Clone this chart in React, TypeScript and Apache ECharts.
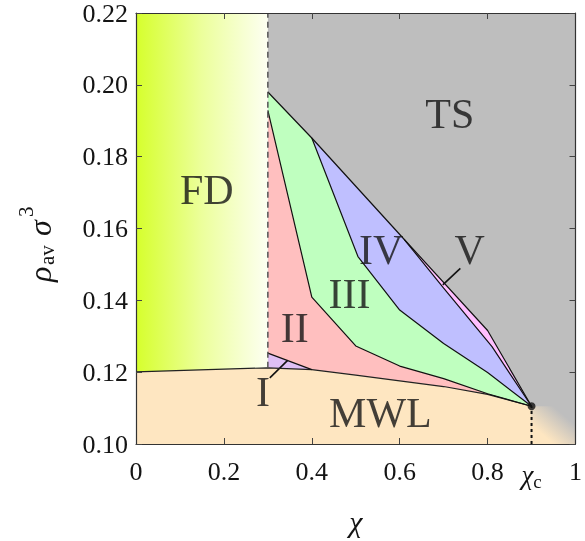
import React, { useEffect, useRef } from "react";
import * as echarts from "echarts";

// ---- data ----
const xTickLabels = [0, 0.2, 0.4, 0.6, 0.8, 0.9, 1];
const xTickMarks = [0.2, 0.4, 0.6, 0.8];
const chiC = 0.9;

// MWL upper boundary
const mwlX = [0, 0.3, 0.4, 0.5, 0.6, 0.7, 0.8, 0.9];
const mwlY = [0.1201, 0.1212, 0.1207, 0.1192, 0.1176, 0.116, 0.1138, 0.1105];
// TS lower boundary (upper edge of regions II..V)
const tsX = [0.3, 0.4, 0.61, 0.8, 0.9];
const tsY = [0.198, 0.1852, 0.157, 0.1316, 0.1105];
// I / II boundary
const b12X = [0.3, 0.4];
const b12Y = [0.1253, 0.1207];
// II / III boundary
const b23X = [0.3, 0.4, 0.5, 0.6, 0.7, 0.8, 0.9];
const b23Y = [0.1929, 0.1409, 0.1273, 0.1217, 0.1182, 0.114, 0.1105];
// III / IV boundary
const b34X = [0.4, 0.505, 0.6, 0.7, 0.8, 0.9];
const b34Y = [0.1852, 0.1522, 0.1373, 0.128, 0.1199, 0.1105];
// IV / V boundary
const b45X = [0.61, 0.7, 0.81, 0.9];
const b45Y = [0.157, 0.1434, 0.1271, 0.1105];

// region labels
const labelText = ["FD", "TS", "II", "III", "IV", "V", "I", "MWL"];
const labelX = [0.161, 0.714, 0.361, 0.486, 0.558, 0.759, 0.289, 0.556];
const labelY = [0.1707, 0.192, 0.1324, 0.1418, 0.1539, 0.1539, 0.1144, 0.1085];

// arrows [tailX, tailY, headX, headY]
const arrowI = [0.3045, 0.1184, 0.345, 0.1233];
const arrowV = [0.738, 0.1489, 0.698, 0.1443];

const SERIF = "Liberation Serif";
const INK = "#141414";

const zip = (xs: number[], ys: number[]) => xs.map((x, i) => [x, ys[i]]);

export default function App() {
  const ref = useRef<HTMLDivElement>(null);

  useEffect(() => {
    if (!ref.current) return;
    const chart = echarts.init(ref.current, undefined, { renderer: "svg" });

    const mwl = zip(mwlX, mwlY);
    const ts = zip(tsX, tsY);
    const b23 = zip(b23X, b23Y);
    const b34 = zip(b34X, b34Y);
    const b45 = zip(b45X, b45Y);
    const b12 = zip(b12X, b12Y);
    const mwlFrom03 = mwl.filter((p) => p[0] >= 0.3);
    const mwlBack = mwlFrom03.slice().reverse();

    const xMin = 0, xMax = 1, yMin = 0.1, yMax = 0.22;

    const gray = "#bebebe";
    const peach = "#fee6c1";

    const polys: { pts: number[][]; fill: any }[] = [
      { pts: [[xMin, yMin], [xMax, yMin], [xMax, yMax], [xMin, yMax]], fill: gray },
      { pts: [...ts, ...mwlBack], fill: "#ffbfff" },
      { pts: [...ts.filter((p) => p[0] < 0.61), ...b45, ...mwlBack], fill: "#bfbfff" },
      { pts: [ts[0], ...b34, ...mwlBack], fill: "#bfffbf" },
      { pts: [...b23, ...mwlBack], fill: "#ffbfbf" },
      { pts: [[0.3, mwlY[1]], ...b12], fill: "#dfc0f5" },
      { pts: [[xMin, yMin], ...mwl, [chiC, yMin]], fill: peach },
      {
        pts: [[chiC, yMin], [chiC, mwlY[mwlY.length - 1]], [xMax, mwlY[mwlY.length - 1]], [xMax, yMin]],
        fill: new echarts.graphic.LinearGradient(0, 1, 1, 0, [
          { offset: 0.25, color: peach },
          { offset: 0.75, color: gray },
        ]),
      },
      {
        pts: [[xMin, mwlY[0]], [0.3, mwlY[1]], [0.3, yMax], [xMin, yMax]],
        fill: new echarts.graphic.LinearGradient(0, 0, 1, 0, [
          { offset: 0, color: "#d6ff2c" },
          { offset: 0.5, color: "#ecff9c" },
          { offset: 1, color: "#fdfff2" },
        ]),
      },
    ];

    const polySeries = polys.map((p) => ({
      type: "custom",
      coordinateSystem: "cartesian2d",
      xAxisIndex: 0,
      yAxisIndex: 0,
      silent: true,
      clip: true,
      data: [0],
      renderItem: (_params: any, api: any) => ({
        type: "polygon",
        shape: { points: p.pts.map((q) => api.coord(q)) },
        style: { fill: p.fill, stroke: "none" },
      }),
    }));

    const lineSeries = (data: number[][], color = "#111", width = 1.2, type: any = "solid") => ({
      type: "line",
      xAxisIndex: 0,
      yAxisIndex: 0,
      data,
      symbol: "none",
      silent: true,
      lineStyle: { color, width, type },
      z: 5,
    });

    const option: any = {
      animation: false,
      textStyle: { fontFamily: SERIF },
      grid: { left: 136, right: 9, top: 12, bottom: 89, containLabel: false },
      xAxis: [
        {
          type: "value",
          min: xMin,
          max: xMax,
          interval: 0.2,
          position: "bottom",
          splitLine: { show: false },
          axisLine: { show: true, onZero: false, lineStyle: { color: "#333", width: 1.2 } },
          axisTick: { show: true, inside: true, length: 6, customValues: xTickMarks, lineStyle: { color: "#444" } },
          axisLabel: {
            customValues: xTickLabels,
            margin: 14,
            fontSize: 26,
            fontFamily: SERIF,
            color: INK,
            formatter: (v: number) => (Math.abs(v - chiC) < 1e-9 ? "{chi|χ}{sub|c}" : String(v)),
            rich: {
              chi: { fontSize: 27, fontStyle: "italic", fontFamily: SERIF, color: INK },
              sub: { fontSize: 19, fontFamily: SERIF, color: INK, verticalAlign: "bottom", padding: [14, 0, 0, 0] },
            },
          },
          name: "χ",
          nameLocation: "middle",
          nameGap: 62,
          nameTextStyle: { fontSize: 30, fontStyle: "italic", fontFamily: SERIF, color: INK },
          z: 10,
        },
        {
          type: "value",
          min: xMin,
          max: xMax,
          interval: 0.2,
          position: "top",
          splitLine: { show: false },
          axisLine: { show: true, onZero: false, lineStyle: { color: "#333", width: 1.2 } },
          axisTick: { show: true, inside: true, length: 6, customValues: xTickMarks, lineStyle: { color: "#444" } },
          axisLabel: { show: false },
          z: 10,
        },
      ],
      yAxis: [
        {
          type: "value",
          min: yMin,
          max: yMax,
          interval: 0.02,
          position: "left",
          splitLine: { show: false },
          axisLine: { show: true, onZero: false, lineStyle: { color: "#333", width: 1.2 } },
          axisTick: { show: true, inside: true, length: 6, lineStyle: { color: "#444" } },
          axisLabel: {
            margin: 8,
            fontSize: 26,
            fontFamily: SERIF,
            color: INK,
            formatter: (v: number) => v.toFixed(2),
          },
          z: 10,
        },
        {
          type: "value",
          min: yMin,
          max: yMax,
          interval: 0.02,
          position: "right",
          splitLine: { show: false },
          axisLine: { show: true, onZero: false, lineStyle: { color: "#333", width: 1.2 } },
          axisTick: { show: true, inside: true, length: 6, lineStyle: { color: "#444" } },
          axisLabel: { show: false },
          z: 10,
        },
      ],
      graphic: [
        {
          type: "group",
          x: 40,
          y: 282,
          rotation: Math.PI / 2,
          children: [
            { type: "text", x: 0, y: 0, style: { text: "ρ", fontSize: 32, fontStyle: "italic", fontFamily: SERIF, fill: INK, align: "left", verticalAlign: "middle" } },
            { type: "text", x: 17, y: 7, style: { text: "av", fontSize: 21, fontFamily: SERIF, fill: INK, align: "left", verticalAlign: "middle" } },
            { type: "text", x: 46, y: 0, style: { text: "σ", fontSize: 32, fontStyle: "italic", fontFamily: SERIF, fill: INK, align: "left", verticalAlign: "middle" } },
            { type: "text", x: 65, y: -14, style: { text: "3", fontSize: 21, fontFamily: SERIF, fill: INK, align: "left", verticalAlign: "middle" } },
          ],
        },
      ],
      series: [
        ...polySeries,
        lineSeries(mwl, "#222", 1.2),
        lineSeries(ts),
        lineSeries(b12),
        lineSeries(b23),
        lineSeries(b34),
        lineSeries(b45),
        lineSeries([[0.3, mwlY[1]], [0.3, yMax]], "#555", 1.5, [6, 4]),
        lineSeries([[chiC, yMin], [chiC, mwlY[mwlY.length - 1]]], "#111", 2, [3, 3]),
        {
          type: "scatter",
          xAxisIndex: 0,
          yAxisIndex: 0,
          data: [[chiC, mwlY[mwlY.length - 1]]],
          symbolSize: 8,
          itemStyle: { color: "#111" },
          silent: true,
          z: 8,
        },
        {
          type: "line",
          xAxisIndex: 0,
          yAxisIndex: 0,
          data: [],
          silent: true,
          markLine: {
            silent: true,
            symbol: ["none", "arrow"],
            symbolSize: [0, 11],
            label: { show: false },
            lineStyle: { color: "#111", width: 1.6, type: "solid" },
            data: [
              [{ coord: [arrowI[0], arrowI[1]] }, { coord: [arrowI[2], arrowI[3]] }],
              [{ coord: [arrowV[0], arrowV[1]] }, { coord: [arrowV[2], arrowV[3]] }],
            ],
          },
          z: 9,
        },
        {
          type: "scatter",
          xAxisIndex: 0,
          yAxisIndex: 0,
          data: labelText.map((t, i) => [labelX[i], labelY[i], t]),
          symbolSize: 0,
          silent: true,
          z: 9,
          label: {
            show: true,
            position: "inside",
            formatter: (p: any) => p.data[2],
            fontSize: 42,
            fontFamily: SERIF,
            color: INK,
          },
        },
      ],
    };

    chart.setOption(option);
    return () => chart.dispose();
  }, []);

  return (
    <div
      ref={ref}
      style={{ position: "fixed", left: 0, top: 0, width: 585, height: 541 }}
    />
  );
}
